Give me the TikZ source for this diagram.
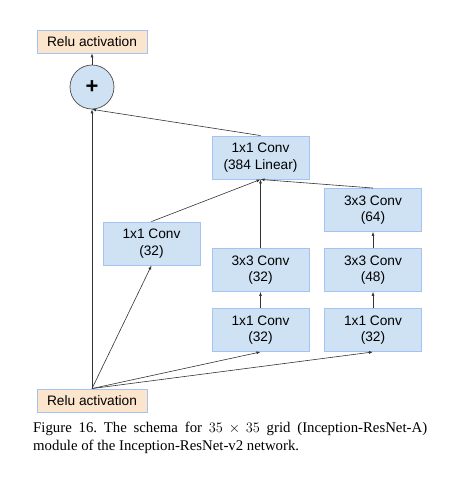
\documentclass[tikz,border=0pt]{standalone}
\usepackage{fontspec}
\setmainfont{Liberation Serif}
\setsansfont{Liberation Sans}
\usepackage{tikz}
\usetikzlibrary{arrows.meta}
\usetikzlibrary{positioning}

\definecolor{convfill}{HTML}{CFE2F3}
\definecolor{convedge}{HTML}{A4C2F4}
\definecolor{relufill}{HTML}{FCE5CD}

\begin{document}
\begin{tikzpicture}[
    x=1pt, y=-1pt,
    >={Latex[length=4pt,width=3pt]},
    every node/.style={font=\sffamily\fontsize{13.7}{16.5}\selectfont},
    conv/.style={draw=convedge, line width=0.9pt, fill=convfill, minimum width=97pt, minimum height=43pt, align=center, inner sep=0pt},
    relu/.style={draw=convedge, line width=0.9pt, fill=relufill, minimum width=110pt, minimum height=23pt, inner sep=0pt},
    link/.style={->, draw=black!80, line width=0.6pt}
]
\useasboundingbox[fill=white] (0,0) rectangle (464,480);

% input and output
\node[relu] (reluin) at (92,400.5) {Relu activation};
\node[relu] (reluout) at (92,41.5) {Relu activation};
\node[circle, draw=black!70, line width=0.7pt, fill=convfill, minimum size=44pt, inner sep=0pt] (sum) at (92,87) {\fontsize{22}{22}\selectfont\bfseries +};

% branches
\node[conv] (left1) at (151.5,243.5) {1x1 Conv\\(32)};
\node[conv] (mid1) at (260.5,330) {1x1 Conv\\(32)};
\node[conv] (mid2) at (260.5,270) {3x3 Conv\\(32)};
\node[conv] (right1) at (373,330) {1x1 Conv\\(32)};
\node[conv] (right2) at (373,270) {3x3 Conv\\(48)};
\node[conv] (right3) at (373,210) {3x3 Conv\\(64)};
\node[conv] (linear) at (260.5,157.5) {1x1 Conv\\(384 Linear)};

\draw[link] (reluin.north) -- (sum.south);
\draw[link] (reluin.north) -- (left1.south);
\draw[link] (reluin.north) -- (mid1.south);
\draw[link] (reluin.north) -- (right1.south);
\draw[link] (mid1) -- (mid2);
\draw[link] (mid2) -- (linear);
\draw[link] (right1) -- (right2);
\draw[link] (right2) -- (right3);
\draw[link] (left1.north) -- (linear.south);
\draw[link] (right3.north) -- (linear.south);
\draw[link] (linear.north) -- (sum.south);
\draw[link] (sum) -- (reluout);

% caption
\node[anchor=north west, inner sep=0pt, text width=394pt, align=justify,
      font=\rmfamily\fontsize{14.8}{17.5}\selectfont\frenchspacing] (caption) at (33,422)
  {Figure 16. The schema for $35\times35$ grid (Inception-ResNet-A)\linebreak module of the Inception-ResNet-v2 network.};
\end{tikzpicture}
\end{document}
